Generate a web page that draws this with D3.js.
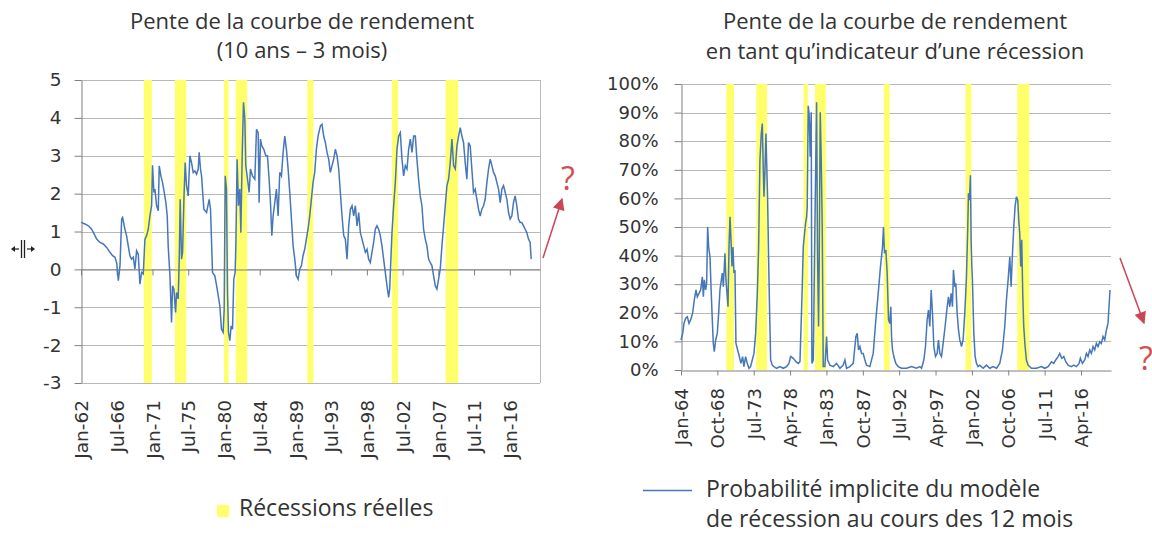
<!DOCTYPE html>
<html>
<head>
<meta charset="utf-8">
<script src="https://cdn.jsdelivr.net/npm/d3@7"></script>
<style>
    body { margin: 0; background: #fff; }
    svg text { fill: #333; }
    .title { font-family: "Open Sans", sans-serif; font-size: 22px; }
    .legend { font-family: "Open Sans", sans-serif; font-size: 23px; }
    .axis text { font-family: "DejaVu Sans", sans-serif; }
    .axis path, .axis line { stroke: #808080; }
    .grid line { stroke: #b8b8b8; }
</style>
</head>
<body>
<svg id="chart" width="1152" height="533"></svg>
<script>
// --- left panel: 10y - 3m slope ---
const slopeYears = [
    1962.00, 1962.50, 1962.92, 1963.34, 1963.76, 1963.97, 1964.39, 1964.81, 1965.23, 1965.65,
    1965.98, 1966.28, 1966.49, 1966.70, 1966.91, 1967.12, 1967.24, 1967.53, 1967.74, 1967.95,
    1968.16, 1968.37, 1968.58, 1968.79, 1969.00, 1969.21, 1969.42, 1969.63, 1969.84, 1970.05,
    1970.26, 1970.47, 1970.68, 1970.89, 1971.01, 1971.18, 1971.31, 1971.52, 1971.73, 1971.85,
    1972.06, 1972.27, 1972.48, 1972.69, 1972.86, 1972.98, 1973.20, 1973.40, 1973.53, 1973.70,
    1973.91, 1974.03, 1974.24, 1974.37, 1974.49, 1974.66, 1974.79, 1974.96, 1975.12, 1975.29,
    1975.50, 1975.71, 1975.92, 1976.13, 1976.34, 1976.55, 1976.76, 1976.88, 1977.05, 1977.18,
    1977.47, 1977.81, 1978.14, 1978.31, 1978.56, 1978.86, 1979.15, 1979.48, 1979.69, 1979.90,
    1980.03, 1980.16, 1980.32, 1980.45, 1980.57, 1980.74, 1980.91, 1981.08, 1981.24, 1981.41,
    1981.50, 1981.66, 1981.83, 1982.00, 1982.13, 1982.29, 1982.46, 1982.63, 1982.75, 1982.92,
    1983.17, 1983.34, 1983.59, 1983.89, 1984.10, 1984.31, 1984.43, 1984.60, 1984.77, 1985.02,
    1985.27, 1985.48, 1985.69, 1985.86, 1986.03, 1986.19, 1986.40, 1986.61, 1986.82, 1987.03,
    1987.24, 1987.45, 1987.66, 1987.87, 1988.08, 1988.29, 1988.50, 1988.71, 1988.92, 1989.13,
    1989.34, 1989.55, 1989.76, 1989.96, 1990.17, 1990.38, 1990.59, 1990.80, 1991.01, 1991.22,
    1991.43, 1991.64, 1991.85, 1992.15, 1992.35, 1992.56, 1992.77, 1992.98, 1993.19, 1993.40,
    1993.61, 1993.82, 1994.03, 1994.24, 1994.45, 1994.66, 1994.87, 1995.08, 1995.29, 1995.50,
    1995.71, 1995.92, 1996.13, 1996.34, 1996.55, 1996.76, 1996.97, 1997.18, 1997.39, 1997.60,
    1997.81, 1998.02, 1998.22, 1998.43, 1998.64, 1998.85, 1999.06, 1999.27, 1999.48, 1999.69,
    1999.90, 2000.11, 2000.32, 2000.53, 2000.74, 2000.87, 2000.99, 2001.16, 2001.37, 2001.58,
    2001.79, 2002.00, 2002.21, 2002.42, 2002.63, 2002.84, 2003.05, 2003.26, 2003.47, 2003.68,
    2003.89, 2004.10, 2004.30, 2004.51, 2004.72, 2004.93, 2005.14, 2005.35, 2005.56, 2005.77,
    2005.98, 2006.19, 2006.40, 2006.61, 2006.82, 2007.03, 2007.24, 2007.45, 2007.66, 2007.87,
    2008.08, 2008.29, 2008.50, 2008.71, 2008.92, 2009.13, 2009.34, 2009.55, 2009.76, 2009.96,
    2010.17, 2010.38, 2010.59, 2010.80, 2011.01, 2011.22, 2011.43, 2011.64, 2011.85, 2012.06,
    2012.27, 2012.48, 2012.69, 2012.90, 2013.11, 2013.32, 2013.53, 2013.74, 2013.95, 2014.16,
    2014.37, 2014.58, 2014.79, 2015.00, 2015.21, 2015.42, 2015.63, 2015.84, 2016.04, 2016.25,
    2016.46, 2016.67, 2016.88, 2017.09, 2017.30, 2017.51, 2017.72, 2017.93, 2018.14, 2018.35,
    2018.56, 2018.69
];
const slopeValues = [
    1.24, 1.20, 1.15, 1.06, 0.89, 0.80, 0.71, 0.67, 0.58, 0.45,
    0.36, 0.32, 0.18, -0.30, 0.10, 1.33, 1.37, 1.06, 0.89, 0.62,
    0.36, 0.27, 0.32, 0.01, 0.49, 0.40, -0.39, -0.08, -0.12, 0.80,
    0.89, 1.06, 1.41, 1.68, 2.75, 2.03, 2.12, 1.68, 1.55, 2.73,
    2.47, 2.29, 2.03, 1.76, 1.41, 0.62, -0.17, -1.40, -0.43, -0.52,
    -1.14, -0.61, -0.78, 0.27, 1.85, 0.27, 0.45, 1.85, 2.82, 2.21,
    1.94, 3.00, 2.82, 2.56, 2.60, 2.51, 2.65, 3.09, 2.65, 2.47,
    1.59, 1.50, 1.85, 1.59, -0.08, -0.17, -0.52, -0.96, -1.58, -1.66,
    -1.05, 2.47, 2.12, -0.61, -1.66, -1.88, -1.49, -1.58, -0.26, -0.08,
    0.62, 2.91, 1.68, 2.12, 0.97, 2.91, 4.41, 3.97, 2.73, 2.47,
    2.03, 2.65, 2.47, 2.38, 3.70, 3.61, 1.76, 3.44, 3.26, 3.17,
    3.00, 3.00, 2.38, 1.76, 0.89, 1.41, 1.76, 2.12, 1.41, 2.56,
    2.47, 3.09, 3.52, 3.17, 2.65, 2.03, 1.33, 0.62, 0.27, -0.17,
    -0.26, 0.01, 0.10, 0.36, 0.53, 0.80, 1.06, 1.41, 1.85, 2.29,
    2.56, 3.17, 3.52, 3.79, 3.83, 3.52, 3.35, 3.09, 2.91, 2.56,
    2.74, 2.91, 3.17, 3.00, 2.65, 2.03, 1.41, 0.89, 0.80, 0.27,
    1.15, 1.59, 1.68, 1.41, 1.68, 1.15, 1.50, 0.97, 0.80, 0.62,
    0.45, 0.53, 0.27, 0.18, 0.45, 0.71, 1.06, 1.15, 1.06, 0.89,
    0.62, 0.27, -0.08, -0.43, -0.74, -0.52, 0.10, 0.97, 1.68, 2.29,
    3.17, 3.52, 3.61, 2.91, 2.47, 2.74, 2.65, 3.17, 3.44, 3.09,
    3.52, 3.52, 2.91, 2.38, 1.94, 1.68, 1.06, 0.80, 0.62, 0.27,
    0.18, 0.10, -0.17, -0.43, -0.52, -0.26, 0.01, 0.62, 1.15, 1.68,
    2.21, 2.38, 2.82, 3.44, 2.74, 2.65, 3.26, 3.52, 3.74, 3.52,
    3.35, 2.82, 2.38, 3.35, 3.26, 2.65, 2.03, 2.12, 1.85, 1.59,
    1.41, 1.59, 1.68, 1.85, 2.29, 2.65, 2.91, 2.74, 2.56, 2.47,
    2.29, 2.12, 1.76, 2.12, 2.21, 2.03, 1.85, 1.50, 1.33, 1.41,
    1.76, 1.94, 1.68, 1.33, 1.24, 1.24, 1.15, 1.06, 0.97, 0.80,
    0.71, 0.27
];
const slopeTicks = [-3, -2, -1, 0, 1, 2, 3, 4, 5];
const slopeTickYears = [1962, 1966.5, 1971, 1975.5, 1980, 1984.5, 1989, 1993.5, 1998, 2002.5, 2007, 2011.5, 2016];
const slopeTickLabels = ['Jan-62', 'Jul-66', 'Jan-71', 'Jul-75', 'Jan-80', 'Jul-84', 'Jan-89', 'Jul-93', 'Jan-98', 'Jul-02', 'Jan-07', 'Jul-11', 'Jan-16'];

// --- right panel: implied recession probability, in % ---
const probYears = [
    1964.00, 1964.22, 1964.39, 1964.61, 1964.83, 1965.04, 1965.26, 1965.52, 1965.74, 1965.96,
    1966.13, 1966.35, 1966.57, 1966.79, 1966.92, 1967.05, 1967.22, 1967.35, 1967.48, 1967.61,
    1967.79, 1967.92, 1968.09, 1968.22, 1968.35, 1968.53, 1968.74, 1968.92, 1969.09, 1969.27,
    1969.40, 1969.53, 1969.74, 1969.87, 1970.01, 1970.14, 1970.27, 1970.40, 1970.53, 1970.66,
    1970.79, 1970.92, 1971.05, 1971.18, 1971.40, 1971.62, 1971.83, 1972.05, 1972.22, 1972.44,
    1972.66, 1972.88, 1973.09, 1973.31, 1973.53, 1973.75, 1973.97, 1974.14, 1974.31, 1974.49,
    1974.62, 1974.75, 1974.84, 1974.97, 1975.10, 1975.18, 1975.31, 1975.44, 1975.58, 1975.71,
    1975.92, 1976.14, 1976.49, 1976.92, 1977.36, 1977.79, 1978.10, 1978.32, 1978.67, 1979.01,
    1979.32, 1979.54, 1979.71, 1979.84, 1979.97, 1980.14, 1980.27, 1980.41, 1980.49, 1980.62,
    1980.75, 1980.88, 1981.01, 1981.10, 1981.28, 1981.49, 1981.71, 1981.84, 1981.97, 1982.06,
    1982.19, 1982.32, 1982.45, 1982.58, 1982.80, 1983.02, 1983.15, 1983.45, 1983.89, 1984.32,
    1984.76, 1985.19, 1985.41, 1985.63, 1986.06, 1986.50, 1986.85, 1987.02, 1987.19, 1987.37,
    1987.59, 1987.80, 1988.02, 1988.24, 1988.67, 1989.11, 1989.45, 1989.76, 1990.06, 1990.32,
    1990.45, 1990.58, 1990.76, 1990.93, 1991.11, 1991.28, 1991.41, 1991.50, 1991.63, 1991.80,
    1992.06, 1992.37, 1992.80, 1993.46, 1994.11, 1994.76, 1995.20, 1995.42, 1995.72, 1995.94,
    1996.15, 1996.33, 1996.50, 1996.68, 1996.85, 1997.03, 1997.24, 1997.46, 1997.63, 1997.81,
    1998.03, 1998.24, 1998.50, 1998.77, 1998.94, 1999.11, 1999.29, 1999.46, 1999.59, 1999.77,
    1999.90, 2000.07, 2000.25, 2000.42, 2000.64, 2000.85, 2001.07, 2001.29, 2001.46, 2001.55,
    2001.68, 2001.81, 2001.90, 2001.99, 2002.07, 2002.25, 2002.42, 2002.60, 2002.81, 2003.03,
    2003.47, 2003.90, 2004.34, 2004.77, 2005.21, 2005.64, 2005.99, 2006.29, 2006.51, 2006.73,
    2006.95, 2007.12, 2007.30, 2007.47, 2007.64, 2007.82, 2007.99, 2008.12, 2008.25, 2008.38,
    2008.51, 2008.64, 2008.77, 2008.95, 2009.12, 2009.34, 2009.78, 2010.43, 2011.08, 2011.52,
    2011.95, 2012.39, 2012.69, 2012.95, 2013.26, 2013.47, 2013.74, 2014.00, 2014.26, 2014.56,
    2015.00, 2015.30, 2015.65, 2016.00, 2016.17, 2016.43, 2016.74, 2016.96, 2017.17, 2017.39,
    2017.61, 2017.83, 2018.04, 2018.26, 2018.48, 2018.70, 2018.91, 2019.13, 2019.35, 2019.57,
    2019.78, 2019.91, 2020.04
];
const probValues = [
    10.5, 12.8, 16.3, 18.1, 18.6, 16.3, 17.5, 19.9, 24.5, 28.0,
    25.6, 26.8, 28.0, 32.6, 25.6, 31.5, 28.0, 30.3, 50.0, 43.0,
    39.6, 29.1, 17.5, 9.3, 6.4, 10.5, 12.8, 19.9, 28.0, 31.5,
    33.9, 29.1, 40.8, 31.5, 26.8, 22.1, 43.0, 53.6, 45.5, 36.2,
    43.0, 33.9, 35.0, 9.3, 7.0, 4.7, 2.3, 4.7, 1.2, 4.7,
    2.3, 0.6, 1.2, 3.5, 5.8, 12.8, 26.8, 43.0, 73.4, 82.7,
    86.2, 69.9, 60.6, 69.9, 82.7, 73.4, 60.6, 39.6, 19.9, 3.5,
    1.7, 1.2, 0.6, 1.2, 0.6, 1.2, 2.3, 4.7, 4.1, 2.9,
    2.3, 2.9, 17.5, 29.1, 43.0, 47.8, 51.3, 53.6, 57.1, 92.4,
    88.9, 74.6, 90.1, 2.3, 3.5, 50.0, 93.6, 39.6, 15.2, 39.6,
    90.1, 73.4, 50.0, 1.2, 1.2, 11.7, 3.5, 1.7, 1.2, 2.3,
    0.6, 1.7, 3.5, 0.6, 1.2, 2.3, 11.7, 12.8, 7.0, 8.2,
    5.8, 5.8, 3.5, 1.7, 1.2, 5.8, 17.5, 26.8, 36.2, 43.0,
    50.0, 40.8, 41.9, 33.9, 17.5, 16.3, 22.1, 11.7, 7.0, 4.7,
    2.3, 1.2, 0.6, 0.6, 1.2, 0.6, 1.2, 0.6, 3.5, 8.2,
    17.5, 21.0, 15.2, 28.0, 19.9, 8.2, 4.7, 5.8, 10.5, 5.8,
    4.7, 9.3, 15.2, 22.1, 25.6, 22.1, 26.8, 22.1, 35.0, 29.1,
    30.3, 19.9, 14.0, 10.5, 8.2, 10.5, 19.9, 32.6, 50.0, 61.8,
    59.4, 68.1, 45.5, 36.2, 31.5, 12.8, 4.7, 2.3, 1.2, 1.7,
    0.6, 1.7, 0.6, 1.2, 0.6, 2.3, 7.0, 15.2, 24.5, 31.5,
    39.6, 29.1, 40.8, 50.0, 57.1, 60.6, 59.4, 52.4, 47.8, 36.2,
    45.5, 26.8, 15.2, 8.2, 3.5, 1.7, 0.6, 0.6, 1.2, 0.6,
    1.2, 2.9, 2.3, 3.5, 4.7, 5.8, 4.1, 4.7, 2.9, 1.7,
    1.2, 1.7, 1.2, 2.3, 4.1, 2.3, 3.5, 5.8, 4.7, 7.0,
    5.8, 8.2, 7.0, 9.3, 8.2, 9.9, 9.3, 11.7, 10.5, 14.0,
    16.3, 22.1, 28.0
];
const probTicks = [0, 10, 20, 30, 40, 50, 60, 70, 80, 90, 100];
const probTickYears = [1964, 1968.75, 1973.5, 1978.25, 1983, 1987.75, 1992.5, 1997.25, 2002, 2006.75, 2011.5, 2016.25];
const probTickLabels = ['Jan-64', 'Oct-68', 'Jul-73', 'Apr-78', 'Jan-83', 'Oct-87', 'Jul-92', 'Apr-97', 'Jan-02', 'Oct-06', 'Jul-11', 'Apr-16'];

// NBER recessions (start, end)
const recessionStarts = [1969.92, 1973.83, 1980.0, 1981.5, 1990.5, 2001.17, 2007.92];
const recessionEnds   = [1970.92, 1975.25, 1980.58, 1982.92, 1991.25, 2001.92, 2009.5];

const BLUE = '#4677b8';
const YELLOW = '#ffff6b';
const RED = '#cc4455';

const svg = d3.select('#chart');
svg.append('rect').attr('width', 1152).attr('height', 533).attr('fill', '#fff');

const defs = svg.append('defs');
defs.append('marker')
    .attr('id', 'head')
    .attr('viewBox', '0 0 10 10')
    .attr('refX', 9).attr('refY', 5)
    .attr('markerUnits', 'userSpaceOnUse')
    .attr('markerWidth', 13).attr('markerHeight', 12)
    .attr('orient', 'auto')
    .append('path')
    .attr('d', 'M0,0L10,5L0,10Z')
    .attr('fill', RED);

// one text element, one tspan per line
function drawLines(cls, x, anchor, lines, baselines) {
    const t = svg.append('text').attr('class', cls).attr('text-anchor', anchor);
    lines.forEach(function (s, i) {
        t.append('tspan').attr('x', x).attr('y', baselines[i]).text(s);
    });
}

function drawBands(g, x, y0, y1) {
    g.selectAll('.band')
        .data(d3.range(recessionStarts.length))
        .enter().append('rect')
        .attr('class', 'band')
        .attr('x', function (i) { return x(recessionStarts[i]); })
        .attr('width', function (i) { return x(recessionEnds[i]) - x(recessionStarts[i]); })
        .attr('y', y1)
        .attr('height', y0 - y1)
        .attr('fill', YELLOW);
}

function rotateLabels(axisG, labels, offset) {
    axisG.selectAll('text')
        .text(function (d, i) { return labels[i]; })
        .style('text-anchor', 'end')
        .attr('x', -offset)
        .attr('y', 0)
        .attr('dy', '0.36em')
        .attr('transform', 'rotate(-90)');
}

// ================= left panel =================
(function () {
    const x = d3.scaleLinear().domain([1962, 2019.8]).range([81, 540]);
    const y = d3.scaleLinear().domain([-3, 5]).range([383, 80]);
    const g = svg.append('g');

    drawLines('title', 302, 'middle', ['Pente de la courbe de rendement', '(10 ans \u2013 3 mois)'], [29, 58]);

    g.append('g').attr('class', 'grid')
        .selectAll('line').data(slopeTicks).enter().append('line')
        .attr('x1', x.range()[0]).attr('x2', x.range()[1])
        .attr('y1', function (d) { return Math.round(y(d)) + 0.5; })
        .attr('y2', function (d) { return Math.round(y(d)) + 0.5; });
    g.append('line')
        .attr('x1', 540.5).attr('x2', 540.5).attr('y1', y(5)).attr('y2', y(-3))
        .attr('stroke', '#b8b8b8');

    drawBands(g, x, y(-3), y(5));

    const yAxis = g.append('g').attr('class', 'axis')
        .attr('transform', 'translate(81.5,0)')
        .call(d3.axisLeft(y).tickValues(slopeTicks).tickSize(7).tickSizeOuter(0).tickPadding(13)
            .tickFormat(function (d) { return String(d); }));
    yAxis.selectAll('text').style('font-size', '18.5px');

    g.append('g').attr('class', 'axis')
        .attr('transform', 'translate(0,' + (Math.round(y(0)) + 0.5) + ')')
        .call(d3.axisBottom(x).tickValues(slopeTickYears).tickSize(6).tickSizeOuter(0).tickFormat(''));

    const xLab = g.append('g').attr('class', 'axis')
        .attr('transform', 'translate(0,383)')
        .call(d3.axisBottom(x).tickValues(slopeTickYears).tickSize(0));
    xLab.select('.domain').remove();
    xLab.selectAll('text').style('font-size', '18.5px');
    rotateLabels(xLab, slopeTickLabels, 17);

    const line = d3.line()
        .x(function (d, i) { return x(slopeYears[i]); })
        .y(function (d) { return y(d); });
    g.append('path')
        .datum(slopeValues)
        .attr('d', line)
        .attr('fill', 'none')
        .attr('stroke', BLUE)
        .attr('stroke-width', 1.5);

    // legend
    svg.append('rect').attr('x', 217).attr('y', 505).attr('width', 12).attr('height', 12).attr('fill', YELLOW);
    drawLines('legend', 239, 'start', ['Récessions réelles'], [516]);

    // arrow + question mark
    svg.append('line')
        .attr('x1', 543).attr('y1', 258).attr('x2', 562).attr('y2', 199)
        .attr('stroke', RED).attr('stroke-width', 1.5)
        .attr('marker-end', 'url(#head)');
    svg.append('text').attr('x', 568).attr('y', 190)
        .attr('text-anchor', 'middle')
        .style('font-family', '"Open Sans", sans-serif').style('font-size', '32px')
        .style('fill', '#d64c4c').text('?');

    // small resize glyph at the left edge
    const gl = svg.append('g').attr('stroke', '#222').attr('fill', '#222');
    gl.append('line').attr('x1', 21.5).attr('x2', 21.5).attr('y1', 240).attr('y2', 258).attr('stroke-width', 1.3);
    gl.append('line').attr('x1', 24.5).attr('x2', 24.5).attr('y1', 240).attr('y2', 258).attr('stroke-width', 1.3);
    gl.append('line').attr('x1', 14).attr('x2', 19).attr('y1', 249).attr('y2', 249).attr('stroke-width', 1.2);
    gl.append('line').attr('x1', 27).attr('x2', 32).attr('y1', 249).attr('y2', 249).attr('stroke-width', 1.2);
    gl.append('path').attr('d', 'M11,249L15,246L15,252Z').attr('stroke', 'none');
    gl.append('path').attr('d', 'M35,249L31,246L31,252Z').attr('stroke', 'none');
})();

// ================= right panel =================
(function () {
    const x = d3.scaleLinear().domain([1964, 2020.17]).range([681, 1111]);
    const y = d3.scaleLinear().domain([0, 100]).range([370, 84]);
    const g = svg.append('g');

    drawLines('title', 895, 'middle',
        ['Pente de la courbe de rendement', 'en tant qu\u2019indicateur d\u2019une récession'], [29, 59]);

    g.append('g').attr('class', 'grid')
        .selectAll('line').data(probTicks.slice(1)).enter().append('line')
        .attr('x1', x.range()[0]).attr('x2', x.range()[1])
        .attr('y1', function (d) { return Math.round(y(d)) + 0.5; })
        .attr('y2', function (d) { return Math.round(y(d)) + 0.5; });

    drawBands(g, x, y(0), y(100));

    const yAxis = g.append('g').attr('class', 'axis')
        .attr('transform', 'translate(681.5,0)')
        .call(d3.axisLeft(y).tickValues(probTicks).tickSize(7).tickSizeOuter(0).tickPadding(16)
            .tickFormat(function (d) { return d + '%'; }));
    yAxis.selectAll('text').style('font-size', '18px');

    g.append('g').attr('class', 'axis')
        .attr('transform', 'translate(0,370.5)')
        .call(d3.axisBottom(x).tickValues(probTickYears).tickSize(5).tickSizeOuter(0).tickFormat(''));

    const xLab = g.append('g').attr('class', 'axis')
        .attr('transform', 'translate(0,370)')
        .call(d3.axisBottom(x).tickValues(probTickYears).tickSize(0));
    xLab.select('.domain').remove();
    xLab.selectAll('text').style('font-size', '18px');
    rotateLabels(xLab, probTickLabels, 18);

    const line = d3.line()
        .x(function (d, i) { return x(probYears[i]); })
        .y(function (d) { return y(d); });
    g.append('path')
        .datum(probValues)
        .attr('d', line)
        .attr('fill', 'none')
        .attr('stroke', BLUE)
        .attr('stroke-width', 1.5);

    // legend
    svg.append('line').attr('x1', 643).attr('x2', 692).attr('y1', 490.5).attr('y2', 490.5)
        .attr('stroke', BLUE).attr('stroke-width', 1.5);
    drawLines('legend', 706, 'start',
        ['Probabilité implicite du modèle', 'de récession au cours des 12 mois'], [497, 527]);

    // arrow + question mark
    svg.append('line')
        .attr('x1', 1120).attr('y1', 258).attr('x2', 1144).attr('y2', 323)
        .attr('stroke', RED).attr('stroke-width', 1.5)
        .attr('marker-end', 'url(#head)');
    svg.append('text').attr('x', 1139).attr('y', 370)
        .style('font-family', '"Open Sans", sans-serif').style('font-size', '32px')
        .style('fill', '#d64c4c').text('?');
})();
</script>
</body>
</html>
